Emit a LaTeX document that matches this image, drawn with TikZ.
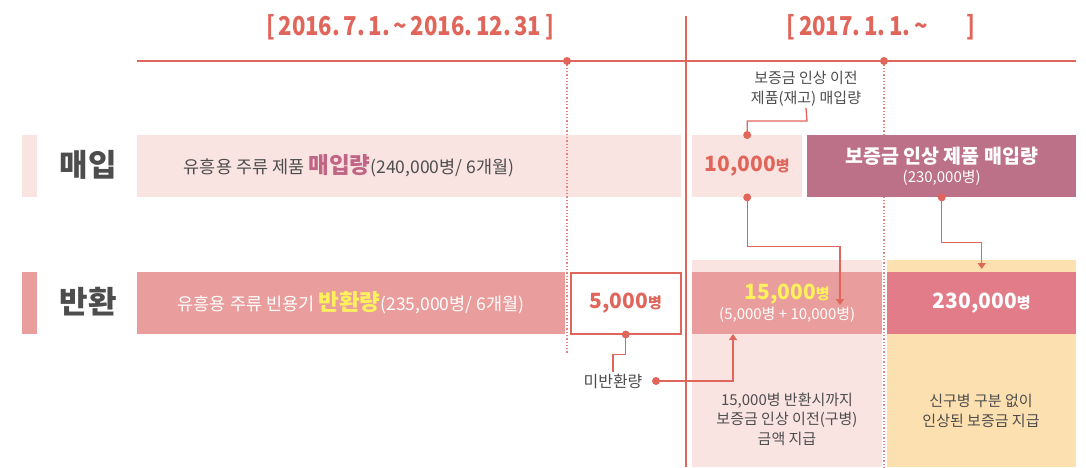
\documentclass[tikz,border=0pt]{standalone}
\usepackage{fontspec}
\setmainfont{Noto Sans CJK KR}
\usetikzlibrary{positioning}
\usetikzlibrary{arrows.meta}
\definecolor{lineRed}{HTML}{E0655A}
\definecolor{dotRed}{HTML}{E6837F}
\definecolor{paleRose}{HTML}{FAE4E2}
\definecolor{midRose}{HTML}{E99E9D}
\definecolor{deepRose}{HTML}{E27C89}
\definecolor{mauve}{HTML}{BC7189}
\definecolor{mauveText}{HTML}{C06585}
\definecolor{sand}{HTML}{FCE0B0}
\definecolor{lemon}{HTML}{FFF15C}
\definecolor{ink}{HTML}{4D4D4D}
\tikzset{
    bar/.style={anchor=north west, inner sep=0pt, minimum height=62pt, align=center},
    rowlabel/.style={text=ink, font=\fontsize{31}{36}\selectfont\bfseries},
    rowtext/.style={font=\fontsize{17.5}{21}\selectfont},
    headline/.style={text=lineRed, font=\fontsize{26}{30}\selectfont\bfseries},
    note/.style={text=ink, align=center, font=\fontsize{15}{19.5}\selectfont},
    link/.style={draw=lineRed, line width=1.3pt},
    linkarrow/.style={link, -{Triangle[length=6pt,width=8pt]}},
    timemark/.style={draw=dotRed, line width=1.3pt, dotted},
    pin/.style={fill=lineRed}
}
\newcommand{\bottles}[2]{{\fontsize{21}{26}\selectfont\bfseries #1}{\fontsize{15}{26}\selectfont\bfseries #2}}
\newcommand{\narrow}[1]{\scalebox{0.85}[1]{#1}}

\begin{document}
\begin{tikzpicture}[x=1pt,y=-1pt]
	\useasboundingbox (0,0) rectangle (1086,467);
	% periods
	\node[headline] (oldterm) at (410,27) {\narrow{[\,2016.\,7.\,1.\,\textasciitilde\,2016.\,12.\,31\,]}};
	\node[headline] (newterm) at (881,27) {\narrow{[\,2017.\,1.\,1.\,\textasciitilde\hspace{46pt}]}};
	\coordinate (axisL) at (137,61);
	\coordinate (axisR) at (1076,61);
	\coordinate (tA) at (567,61);
	\coordinate (tB) at (884,61);
	\draw[draw=lineRed, line width=1.8pt] (axisL) -- (axisR);
	\draw[draw=lineRed, line width=1.3pt] (686,16) -- (686,467);
	% columns after the raise
	\node[bar, fill=paleRose, minimum width=190pt, minimum height=207pt] (oldcol) at (692,260) {};
	\node[bar, fill=sand, minimum width=189pt, minimum height=207pt] (newcol) at (887,260) {};
	\draw[timemark] (tB) -- (884,467);
	% purchase row
	\node[bar, fill=paleRose, minimum width=15pt] (buytag) at (22,135) {};
	\node[rowlabel] (buylabel) at (88,165) {매입};
	\node[bar, fill=paleRose, minimum width=544pt] (buybar) at (137,135) {};
	\node[rowtext, text=ink] (buytext) at (349,166) {유흥용 주류 제품 {\fontsize{22.5}{26}\selectfont\bfseries\color{mauveText}매입량}(240,000병/ 6개월)};
	\node[bar, fill=paleRose, minimum width=110pt, text=lineRed] (oldbuy) at (692,135) {\bottles{10,000}{병}};
	\node[bar, fill=mauve, minimum width=269pt, text=white] (newbuy) at (807,135)
		{{\fontsize{19.5}{24}\selectfont\bfseries 보증금 인상 제품 매입량}\\[3pt]{\fontsize{15}{19}\selectfont (230,000병)}};
	% return row
	\node[bar, fill=midRose, minimum width=15pt] (rettag) at (22,272) {};
	\node[rowlabel] (retlabel) at (88,302) {반환};
	\node[bar, fill=midRose, minimum width=428pt] (retbar) at (137,272) {};
	\node[rowtext, text=white] (rettext) at (351,303) {유흥용 주류 빈용기 {\fontsize{22.5}{26}\selectfont\bfseries\color{lemon}반환량}(235,000병/ 6개월)};
	\node[bar, fill=white, draw=lineRed, line width=1.5pt, minimum width=110pt, minimum height=61pt, text=lineRed] (unret) at (570,272) {\bottles{5,000}{병}};
	\node[bar, fill=midRose, minimum width=190pt] (oldret) at (692,272)
		{\textcolor{lemon}{\bottles{15,000}{병}}\\[1pt]{\color{white}\fontsize{15}{19}\selectfont(5,000병 + 10,000병)}};
	\node[bar, fill=deepRose, minimum width=189pt, text=white] (newret) at (887,272) {\bottles{230,000}{병}};
	\draw[timemark] (tA) -- (567,353);
	\fill[pin] (tA) circle (4);
	\fill[pin] (tB) circle (4);
	% notes
	\node[note] (stocknote) at (806,89) {보증금 인상 이전\\제품(재고) 매입량};
	\node[note, font=\fontsize{16}{20}\selectfont] (missing) at (613,381) {미반환량};
	\node[note] (oldnote) at (787,419) {15,000병 반환시까지\\보증금 인상 이전(구병)\\금액 지급};
	\node[note] (newnote) at (981,411) {신구병 구분 없이\\인상된 보증금 지급};
	\coordinate (missdot) at (656,381);
	\coordinate (tipA) at (840,305);
	\coordinate (tipB) at (733,334);
	% connectors
	\draw[link] ([yshift=2pt]stocknote.south) -- (807,121) -| (oldbuy.north);
	\fill[pin] (oldbuy.north) circle (4);
	\draw[linkarrow] (oldbuy.south) -- ++(0,49) -| (tipA);
	\fill[pin] (oldbuy.south) circle (4);
	\draw[linkarrow, shorten >=3pt] (newbuy.south) -- ++(0,45) -| (newret.north);
	\fill[pin] (newbuy.south) circle (4);
	\draw[link] (unret.south) -- ++(0,20) -| ([yshift=-2pt]missing.north);
	\fill[pin] (unret.south) circle (4);
	\draw[linkarrow] (missdot) -| (tipB);
	\fill[pin] (missdot) circle (4);
\end{tikzpicture}
\end{document}
